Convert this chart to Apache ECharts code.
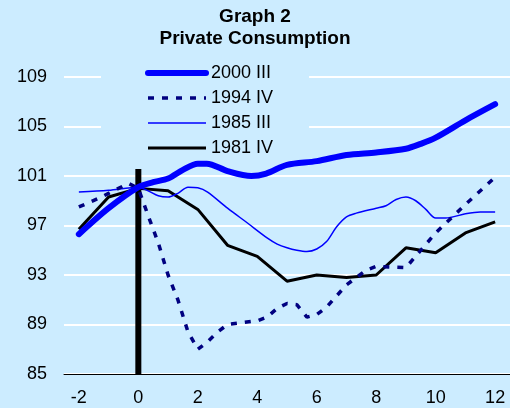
<!DOCTYPE html>
<html>
<head>
<meta charset="UTF-8">
<title>Graph 2 - Private Consumption</title>
<script src="https://cdn.jsdelivr.net/npm/echarts@6/dist/echarts.min.js"></script>
<style>
  html, body { margin: 0; padding: 0; background: #ccecff; }
  #chart { width: 510px; height: 408px; }
</style>
</head>
<body>
<div id="chart"></div>
<script>
// quarters relative to the cycle trough (0)
const quarterLabels = ['-2', '-1', '0', '1', '2', '3', '4', '5', '6', '7', '8', '9', '10', '11', '12'];
const yTicks = [85, 89, 93, 97, 101, 105, 109];

// [quarter, index level]
const s2000 = [
  [-2, 96.3], [-1, 98.4], [0, 100.1], [0.5, 100.5], [1, 100.8], [1.5, 101.5], [2, 102.0],
  [2.3, 102.0], [3, 101.4], [3.8, 101.0], [4.3, 101.2], [5, 101.9], [6, 102.2], [7, 102.7],
  [8, 102.9], [9, 103.2], [9.5, 103.6], [10, 104.1], [11, 105.5], [12, 106.8]
];
const s1994 = [
  [-2, 98.5], [-1.33, 99.2], [-1, 99.6], [-0.33, 100.4], [0, 100.0], [0.33, 97.8], [0.67, 95.6],
  [1, 93.0], [1.33, 91.0], [1.67, 88.4], [2, 87.0], [2.33, 87.6], [2.67, 88.4], [3, 89.0],
  [4, 89.3], [4.33, 89.6], [4.67, 90.3], [5, 90.7], [5.33, 90.6], [5.67, 89.6], [6, 89.8],
  [6.33, 90.4], [7, 92.2], [7.67, 93.4], [8, 93.7], [9, 93.6], [10, 96.4], [11, 98.7], [12, 100.9]
];
const s1985 = [
  [-2, 99.7], [-1, 99.85], [0, 100.1], [0.33, 99.8], [0.67, 99.4], [1, 99.3], [1.33, 99.6],
  [1.67, 100.1], [2, 100.05], [2.33, 99.7], [3, 98.4], [3.67, 97.2], [4.33, 96.0], [4.67, 95.5],
  [5, 95.2], [5.33, 95.0], [5.67, 94.9], [6, 95.1], [6.33, 95.7], [6.67, 96.9], [7, 97.7],
  [7.33, 98.0], [8, 98.4], [8.33, 98.6], [8.67, 99.1], [9, 99.3], [9.33, 99.0], [9.67, 98.3],
  [10, 97.6], [10.33, 97.6], [11, 97.95], [11.5, 98.1], [12, 98.1]
];
const s1981 = [
  [-2, 96.7], [-1, 99.3], [0, 100.0], [1, 99.8], [2, 98.3], [3, 95.4], [4, 94.5], [5, 92.5],
  [6, 93.0], [7, 92.8], [8, 93.0], [9, 95.2], [10, 94.8], [11, 96.4], [12, 97.3]
];
// the bar marking quarter 0
const troughBar = [[0, 85], [0, 102]];

const font = 'Liberation Sans, Arial, sans-serif';

const styles = {
  '2000 III': { color: '#0000ff', width: 6, cap: 'round' },
  '1994 IV': { color: '#000080', width: 3.5, type: [6, 8] },
  '1985 III': { color: '#0000ff', width: 1.5 },
  '1981 IV': { color: '#000000', width: 3 }
};

const option = {
  backgroundColor: '#ccecff',
  animation: false,
  title: {
    text: 'Graph 2\nPrivate Consumption',
    left: 'center',
    top: 6,
    padding: 0,
    textStyle: { fontFamily: font, fontSize: 19, fontWeight: 'bold', color: '#000', lineHeight: 22 }
  },
  legend: {
    orient: 'vertical',
    left: 101,
    top: 52,
    padding: [12, 36, 12, 44],
    backgroundColor: '#ccecff',
    itemWidth: 58,
    itemHeight: 14,
    itemGap: 7,
    itemStyle: { opacity: 0 },
    textStyle: { fontFamily: font, fontSize: 18, color: '#000', lineHeight: 18 },
    data: Object.keys(styles).map(name => ({ name: name, lineStyle: styles[name] }))
  },
  grid: { left: 64, top: 77, width: 449, height: 297 },
  xAxis: [
    {
      type: 'category',
      data: quarterLabels,
      boundaryGap: true,
      axisLine: { lineStyle: { color: '#000', width: 1 } },
      axisTick: { interval: 0, length: 6, lineStyle: { color: '#000' } },
      axisLabel: { interval: 1, color: '#000', fontFamily: font, fontSize: 18, margin: 15 },
      splitLine: { show: false }
    },
    { type: 'value', min: -2.5, max: 12.5, show: false }
  ],
  yAxis: {
    type: 'value',
    min: yTicks[0],
    max: yTicks[yTicks.length - 1],
    interval: 4,
    axisLine: { show: false },
    axisTick: { show: false },
    axisLabel: { color: '#000', fontFamily: font, fontSize: 18, margin: 17 },
    splitLine: { lineStyle: { color: '#ffffff', width: 2 } }
  },
  series: [
    {
      name: 'trough', type: 'line', xAxisIndex: 1, data: troughBar, symbol: 'none',
      lineStyle: { color: '#000', width: 6 }, silent: true, z: 1
    },
    {
      name: '2000 III', type: 'line', xAxisIndex: 1, data: s2000, symbol: 'none', smooth: 0.3,
      lineStyle: styles['2000 III'], itemStyle: { color: '#0000ff' }, z: 5
    },
    {
      name: '1994 IV', type: 'line', xAxisIndex: 1, data: s1994, symbol: 'none',
      lineStyle: styles['1994 IV'], itemStyle: { color: '#000080' }, z: 4
    },
    {
      name: '1985 III', type: 'line', xAxisIndex: 1, data: s1985, symbol: 'none', smooth: 0.3,
      lineStyle: styles['1985 III'], itemStyle: { color: '#0000ff' }, z: 3
    },
    {
      name: '1981 IV', type: 'line', xAxisIndex: 1, data: s1981, symbol: 'none',
      lineStyle: styles['1981 IV'], itemStyle: { color: '#000' }, z: 2
    }
  ]
};

const chart = echarts.init(document.getElementById('chart'));
chart.setOption(option);
</script>
</body>
</html>
